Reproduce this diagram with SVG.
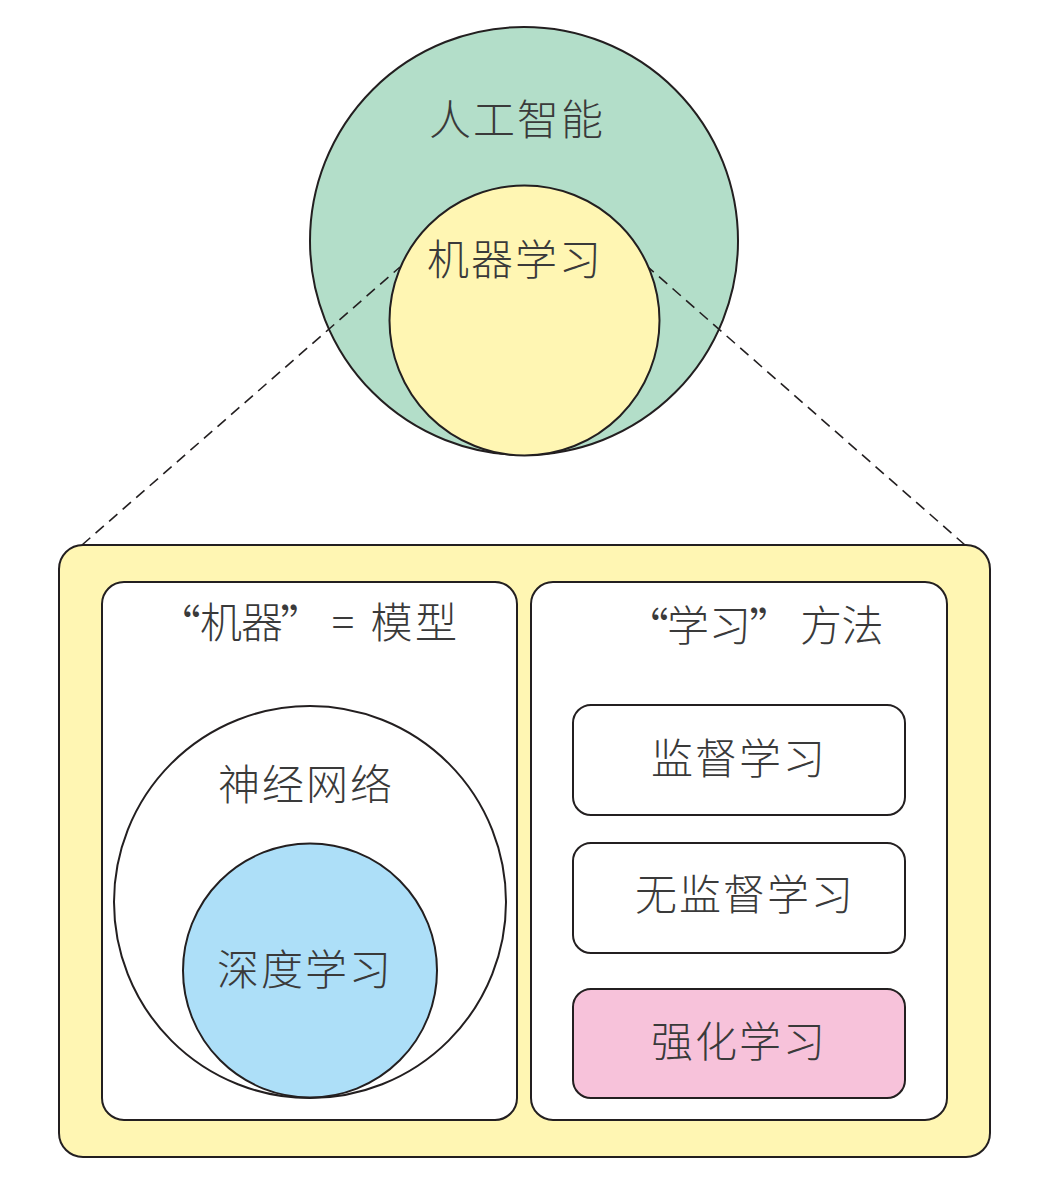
<svg xmlns="http://www.w3.org/2000/svg" width="1050" height="1184" viewBox="0 0 1050 1184">
<style>
.ln{stroke:#231f20;stroke-width:2;}
.t{font-family:"Noto Sans CJK SC","Noto Sans",sans-serif;font-size:42px;font-weight:300;fill:#3a3a3a;text-anchor:middle;}
.q{font-size:46px;}
.dash{stroke:#231f20;stroke-width:1.6;stroke-dasharray:11 7;fill:none;}
</style>
<rect width="1050" height="1184" fill="#ffffff"/>
<g id="ai">
<circle cx="524" cy="241" r="214" fill="#b3dec9" class="ln"/>
<text class="t" x="517" y="135" letter-spacing="2">人工智能</text>
</g>
<g id="connectors">
<line class="dash" x1="82" y1="545" x2="400" y2="267"/>
<line class="dash" x1="965" y1="545" x2="648" y2="267"/>
</g>
<g id="ml">
<circle cx="524.5" cy="320.5" r="135" fill="#fff6b3" class="ln"/>
<text class="t" x="515" y="275" letter-spacing="2">机器学习</text>
</g>
<g id="ml-detail">
<rect x="59" y="545" width="931" height="612" rx="24" fill="#fff6b3" class="ln"/>
</g>
<g id="models">
<rect x="102" y="582" width="415" height="538" rx="22" fill="#ffffff" class="ln"/>
<text class="t" y="638"><tspan class="q" x="178" y="643">“</tspan><tspan x="221" y="638">机</tspan><tspan x="262">器</tspan><tspan class="q" x="303" y="643">”</tspan><tspan x="343" y="638">=</tspan><tspan x="391.5">模</tspan><tspan x="436">型</tspan></text>
</g>
<g id="nn">
<circle cx="310" cy="902" r="196" fill="#ffffff" class="ln"/>
<text class="t" x="306" y="800" letter-spacing="2">神经网络</text>
</g>
<g id="dl">
<circle cx="310" cy="970.5" r="127" fill="#addff8" class="ln"/>
<text class="t" x="305" y="985" letter-spacing="2">深度学习</text>
</g>
<g id="methods">
<rect x="531" y="582" width="416" height="538" rx="22" fill="#ffffff" class="ln"/>
<text class="t" y="641"><tspan class="q" x="646" y="646">“</tspan><tspan x="688" y="641">学</tspan><tspan x="730">习</tspan><tspan class="q" x="772" y="646">”</tspan><tspan x="821" y="641">方</tspan><tspan x="862.5">法</tspan></text>
</g>
<g id="supervised">
<rect x="573" y="705" width="332" height="110" rx="18" fill="#ffffff" class="ln"/>
<text class="t" x="739" y="774" letter-spacing="2">监督学习</text>
</g>
<g id="unsupervised">
<rect x="573" y="843" width="332" height="110" rx="18" fill="#ffffff" class="ln"/>
<text class="t" x="745" y="910" letter-spacing="2">无监督学习</text>
</g>
<g id="reinforcement">
<rect x="573" y="989" width="332" height="109" rx="18" fill="#f7c2da" class="ln"/>
<text class="t" x="739" y="1057" letter-spacing="2">强化学习</text>
</g>
</svg>
